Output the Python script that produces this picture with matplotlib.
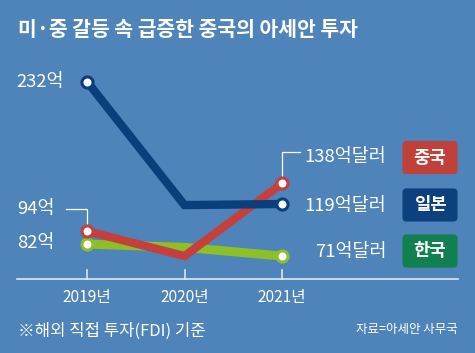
import matplotlib.pyplot as plt
from matplotlib.patches import FancyBboxPatch

plt.rcParams['font.family'] = ['Noto Sans CJK KR', 'DejaVu Sans']

# 데이터 (억 달러)
years = ["2019년", "2020년", "2021년"]
japan = [232, 118, 119]
china = [94, 71, 138]
korea = [82, 79, 71]
names = ["중국", "일본", "한국"]
end_labels = ["138억달러", "119억달러", "71억달러"]
start_labels = ["232억", "94억", "82억"]

bg = "#4f84ba"
c_japan = "#0b3f7b"
c_china = "#c5403c"
c_korea = "#8dbf27"
box_colors = ["#c0403a", "#0d417d", "#117f4f"]

fig = plt.figure(figsize=(4.75, 3.53), dpi=100, facecolor=bg)
ax = fig.add_axes([0, 0, 1, 1])
ax.set_facecolor(bg)
ax.set_xlim(-0.892, 3.979)
ax.set_ylim(-18.45, 307.2)
ax.axis("off")

x = range(len(years))
mk = dict(marker="o", markevery=[0, 2], markersize=8, markerfacecolor="white",
          markeredgewidth=2.2, solid_joinstyle="miter", solid_capstyle="butt")
ax.plot(x, korea, c=c_korea, lw=6.5, markeredgecolor=c_korea, zorder=2, **mk)
ax.plot(x, china, c=c_china, lw=6, markeredgecolor=c_china, zorder=3, **mk)
ax.plot(x, japan, c=c_japan, lw=6, markeredgecolor=c_japan, zorder=4, **mk)

# 축선과 눈금
ax.plot([-0.72, 3.8], [50, 50], c="#dce8f3", lw=1.2, zorder=1)
for i in x:
    ax.plot([i, i], [50, 58.5], c="#dce8f3", lw=1.2, zorder=1)
    ax.text(i, 33, years[i], color="white", fontsize=11.2, fontweight="medium",
            ha="center", va="center")

# 지시선
ax.plot([-0.22, 0, 0], [114.4, 114.4, 96], c="white", lw=0.9, zorder=1)
ax.plot([2, 2, 2.18], [140, 166.7, 166.7], c="white", lw=0.9, zorder=1)

# 시작값 라벨
ax.text(-0.72, 232, start_labels[0], color="white", fontsize=13.3, fontweight="medium",
        ha="left", va="center")
ax.text(-0.72, 114, start_labels[1], color="white", fontsize=13.3, fontweight="medium",
        ha="left", va="center")
ax.text(-0.72, 83, start_labels[2], color="white", fontsize=13.3, fontweight="medium",
        ha="left", va="center")

# 끝값 라벨과 국가 상자
end_y = [162, 117, 75]
box_y = [161.9, 118.1, 75.6]
for lab, yy, by, nm, bc in zip(end_labels, end_y, box_y, names, box_colors):
    ax.text(3.07, yy, lab, color="white", fontsize=13.3, fontweight="medium",
            ha="right", va="center")
    ax.add_patch(FancyBboxPatch((3.235, by - 15.3), 0.565, 30.6,
                                boxstyle="round,pad=0,rounding_size=0.04",
                                fc=bc, ec="none", mutation_aspect=100, zorder=5))
    ax.text(3.518, by, nm, color="white", fontsize=12.8, fontweight="bold",
            ha="center", va="center", zorder=6)

fig.text(18 / 475, 1 - 30 / 353, "미·중 갈등 속 급증한 중국의 아세안 투자", color="white",
         fontsize=14.7, fontweight="bold", ha="left", va="center")
fig.text(18 / 475, 1 - 331 / 353, "※해외 직접 투자(FDI) 기준", color="white",
         fontsize=12, fontweight="medium", ha="left", va="center")
fig.text(458 / 475, 1 - 330 / 353, "자료=아세안 사무국", color="white",
         fontsize=9, ha="right", va="center")

fig.savefig("out.png", dpi=100, facecolor=bg)
